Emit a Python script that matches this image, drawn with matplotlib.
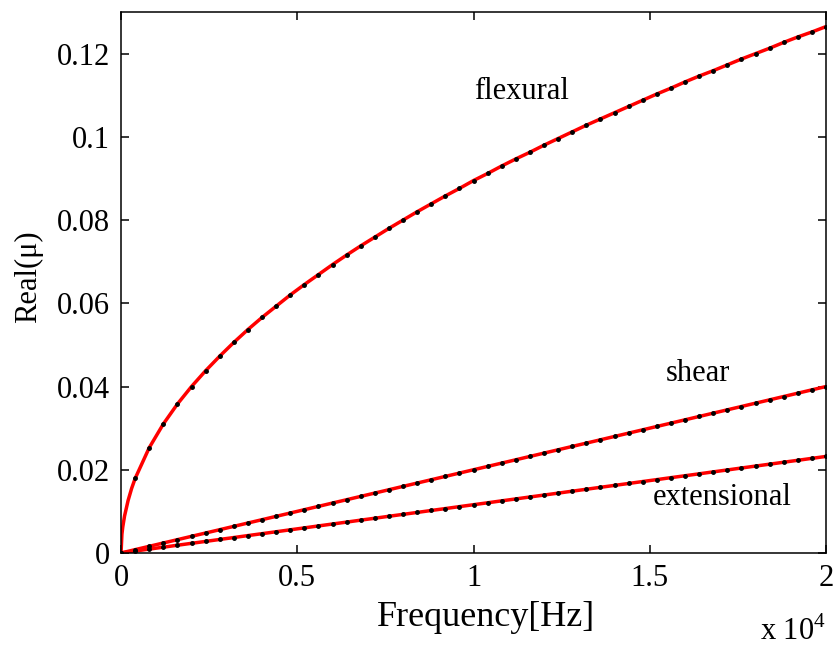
import matplotlib
matplotlib.use("Agg")
import matplotlib.pyplot as plt
import numpy as np

plt.rcParams['font.family'] = ['Liberation Serif', 'DejaVu Serif']
plt.rcParams['mathtext.fontset'] = 'custom'
plt.rcParams['mathtext.rm'] = 'Liberation Serif'

# frequency points where the dots sit (Hz)
freq = np.arange(0, 20001, 400)

flexural = [0.0, 0.0179, 0.0253, 0.0310, 0.0358, 0.0400, 0.0438, 0.0473, 0.0506, 0.0537,
            0.0566, 0.0593, 0.0620, 0.0645, 0.0669, 0.0693, 0.0716, 0.0738, 0.0759, 0.0780,
            0.0800, 0.0820, 0.0839, 0.0858, 0.0876, 0.0895, 0.0912, 0.0930, 0.0947, 0.0963,
            0.0980, 0.0996, 0.1012, 0.1028, 0.1043, 0.1058, 0.1073, 0.1088, 0.1103, 0.1117,
            0.1132, 0.1146, 0.1159, 0.1173, 0.1187, 0.1200, 0.1213, 0.1227, 0.1240, 0.1252,
            0.1265]

shear = [0.0, 0.0008, 0.0016, 0.0024, 0.0032, 0.0040, 0.0048, 0.0056, 0.0064, 0.0072,
         0.0080, 0.0088, 0.0096, 0.0104, 0.0112, 0.0120, 0.0128, 0.0136, 0.0144, 0.0152,
         0.0160, 0.0168, 0.0176, 0.0184, 0.0192, 0.0200, 0.0208, 0.0216, 0.0224, 0.0232,
         0.0240, 0.0248, 0.0256, 0.0264, 0.0272, 0.0280, 0.0288, 0.0296, 0.0304, 0.0312,
         0.0320, 0.0328, 0.0336, 0.0344, 0.0352, 0.0360, 0.0368, 0.0376, 0.0384, 0.0392,
         0.0400]

extensional = [0.0, 0.00046, 0.00093, 0.00139, 0.00186, 0.00232, 0.00278, 0.00325, 0.00371, 0.00418,
               0.00464, 0.00510, 0.00557, 0.00603, 0.00650, 0.00696, 0.00742, 0.00789, 0.00835, 0.00882,
               0.00928, 0.00974, 0.01021, 0.01067, 0.01114, 0.01160, 0.01206, 0.01253, 0.01299, 0.01346,
               0.01392, 0.01438, 0.01485, 0.01531, 0.01578, 0.01624, 0.01670, 0.01717, 0.01763, 0.01810,
               0.01856, 0.01902, 0.01949, 0.01995, 0.02042, 0.02088, 0.02134, 0.02181, 0.02227, 0.02274,
               0.02320]

# extra points on the red flexural curve close to the origin (steep rise)
flex_start_f = [25, 50, 100, 200, 300]
flex_start_v = [0.0045, 0.0063, 0.0089, 0.0126, 0.0155]

labels = ["flexural", "shear", "extensional"]
label_pos = [(11350, 0.1109), (16370, 0.0431), (17050, 0.0134)]

fig = plt.figure(figsize=(8.33, 6.46), dpi=100)
ax = fig.add_axes([0.1453, 0.144, 0.8463, 0.8374])

fl_f = np.concatenate([[0], flex_start_f, freq[1:]])
fl_v = np.concatenate([[0], flex_start_v, flexural[1:]])
ax.plot(fl_f, fl_v, color='red', lw=2.5, zorder=2)
ax.plot(freq, shear, color='red', lw=2.5, zorder=2)
ax.plot(freq, extensional, color='red', lw=2.5, zorder=2)
for ys in (flexural, shear, extensional):
    ax.plot(freq, ys, 'k.', ms=5, zorder=3)

for txt, (x, y) in zip(labels, label_pos):
    ax.text(x, y, txt, fontsize=22, ha='center', va='center')

ax.set_xlim(0, 20000)
ax.set_ylim(0, 0.13)
ax.set_xticks([0, 5000, 10000, 15000, 20000])
ax.set_xticklabels(["0", "0.5", "1", "1.5", "2"])
ax.set_yticks([0, 0.02, 0.04, 0.06, 0.08, 0.1, 0.12])
ax.set_yticklabels(["0", "0.02", "0.04", "0.06", "0.08", "0.1", "0.12"])
ax.tick_params(direction='in', length=6, width=1.1, top=True, right=True,
               labelsize=22, pad=8)
for s in ax.spines.values():
    s.set_linewidth(1.1)

ax.set_xlabel("Frequency[Hz]", fontsize=26)
ax.xaxis.set_label_coords(0.518, -0.088)
ax.set_ylabel("Real(μ)", fontsize=22)
ax.yaxis.set_label_coords(-0.11, 0.51)
fig.text(0.912, 0.0093, r"x 10$^{4}$", fontsize=22, ha='left', va='baseline')

fig.savefig("out.png", dpi=100)
